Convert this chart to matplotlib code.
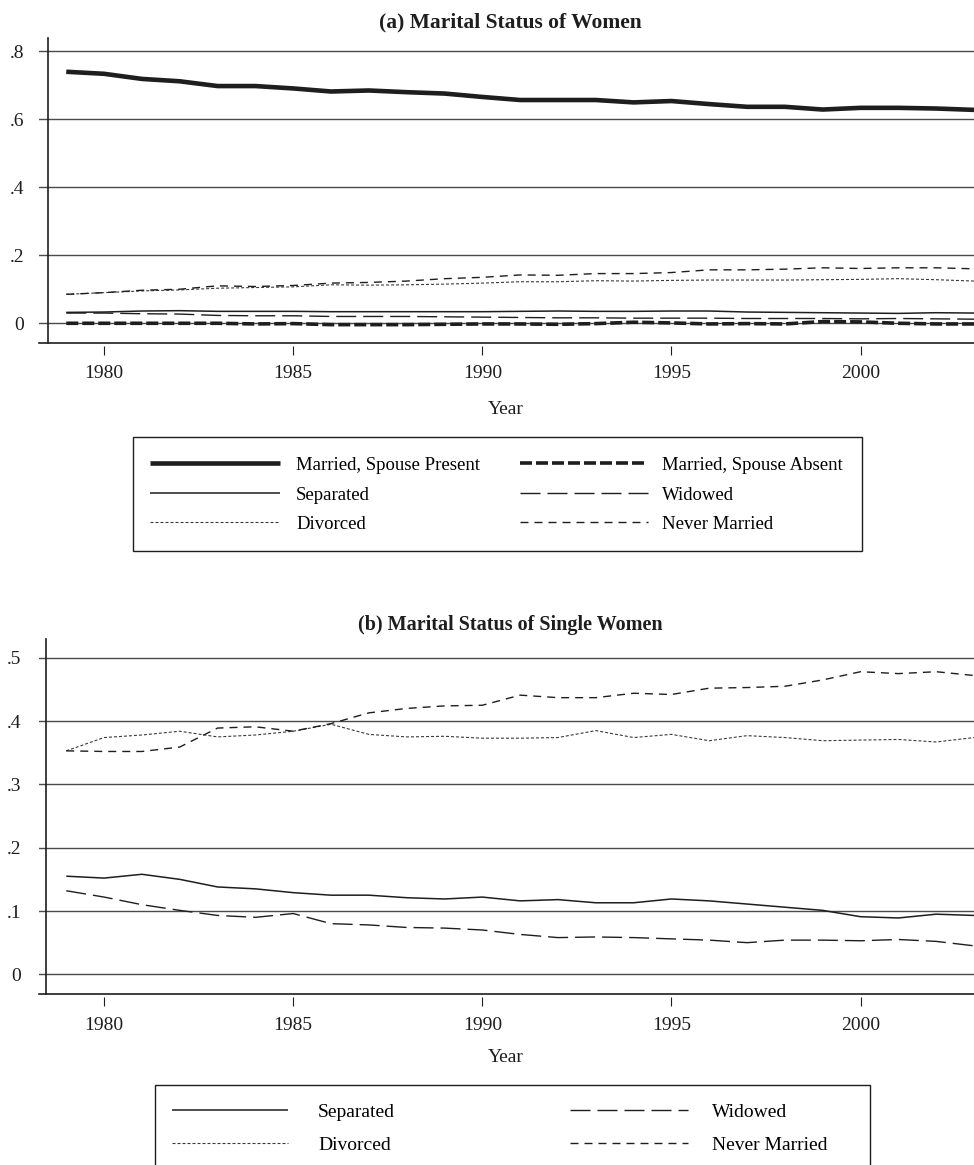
import matplotlib
matplotlib.use("Agg")
import matplotlib.pyplot as plt
from matplotlib.lines import Line2D
from matplotlib.patches import Rectangle

plt.rcParams['font.family'] = ['Liberation Serif', 'DejaVu Serif']
plt.rcParams['lines.scale_dashes'] = False

years = list(range(1979, 2004))

# Panel (a): all women
married_present = [0.739, 0.733, 0.718, 0.711, 0.697, 0.697, 0.690, 0.681, 0.684, 0.679,
                   0.675, 0.665, 0.656, 0.656, 0.656, 0.649, 0.653, 0.644, 0.636, 0.636,
                   0.628, 0.633, 0.633, 0.631, 0.627]
married_absent = [0.000, 0.000, 0.000, 0.000, 0.000, -0.002, -0.001, -0.004, -0.004, -0.004,
                  -0.003, -0.002, -0.002, -0.003, -0.001, 0.003, 0.001, -0.002, -0.001, -0.002,
                  0.005, 0.004, 0.000, -0.002, -0.002]
separated_a = [0.032, 0.033, 0.036, 0.037, 0.035, 0.035, 0.035, 0.034, 0.034, 0.034,
               0.034, 0.034, 0.035, 0.036, 0.035, 0.035, 0.036, 0.036, 0.033, 0.032,
               0.031, 0.030, 0.029, 0.031, 0.030]
widowed_a = [0.030, 0.030, 0.028, 0.027, 0.023, 0.022, 0.022, 0.020, 0.020, 0.020,
             0.019, 0.018, 0.017, 0.016, 0.016, 0.015, 0.015, 0.015, 0.014, 0.014,
             0.014, 0.013, 0.014, 0.013, 0.012]
divorced_a = [0.085, 0.090, 0.095, 0.098, 0.103, 0.105, 0.107, 0.113, 0.112, 0.113,
              0.115, 0.118, 0.122, 0.122, 0.125, 0.124, 0.126, 0.127, 0.127, 0.127,
              0.128, 0.129, 0.131, 0.128, 0.124]
never_a = [0.085, 0.090, 0.097, 0.100, 0.110, 0.108, 0.111, 0.118, 0.120, 0.124,
           0.131, 0.135, 0.142, 0.141, 0.146, 0.146, 0.149, 0.157, 0.157, 0.159,
           0.163, 0.161, 0.163, 0.163, 0.160]

# Panel (b): single women
separated_b = [0.155, 0.152, 0.158, 0.150, 0.138, 0.135, 0.129, 0.125, 0.125, 0.121,
               0.119, 0.122, 0.116, 0.118, 0.113, 0.113, 0.119, 0.116, 0.111, 0.106,
               0.101, 0.091, 0.089, 0.095, 0.093]
widowed_b = [0.132, 0.122, 0.110, 0.101, 0.093, 0.090, 0.096, 0.080, 0.078, 0.074,
             0.073, 0.070, 0.063, 0.058, 0.059, 0.058, 0.056, 0.054, 0.050, 0.054,
             0.054, 0.053, 0.055, 0.052, 0.045]
divorced_b = [0.353, 0.374, 0.378, 0.384, 0.375, 0.378, 0.384, 0.395, 0.379, 0.375,
              0.376, 0.373, 0.373, 0.374, 0.385, 0.374, 0.379, 0.369, 0.377, 0.374,
              0.369, 0.370, 0.371, 0.367, 0.374]
never_b = [0.353, 0.352, 0.352, 0.359, 0.389, 0.391, 0.384, 0.396, 0.413, 0.420,
           0.424, 0.425, 0.441, 0.437, 0.437, 0.444, 0.442, 0.452, 0.453, 0.455,
           0.465, 0.478, 0.475, 0.478, 0.472]

yticks_a = [0, 0.2, 0.4, 0.6, 0.8]
yticklabels_a = ['0', '.2', '.4', '.6', '.8']
yticks_b = [0, 0.1, 0.2, 0.3, 0.4, 0.5]
yticklabels_b = ['0', '.1', '.2', '.3', '.4', '.5']
xticks = [1980, 1985, 1990, 1995, 2000]

INK = '#1e1e1e'
GRID = '#4a4a4a'
W, H = 974, 1165
px = 0.72  # points per pixel at dpi 100

styles = {
    'Married, Spouse Present': dict(color=INK, lw=3.3, ls='-'),
    'Married, Spouse Absent': dict(color=INK, lw=2.6, ls=(0, (12 * px, 4 * px))),
    'Separated': dict(color=INK, lw=1.1, ls='-'),
    'Widowed': dict(color=INK, lw=1.0, ls=(0, (20 * px, 7 * px))),
    'Divorced': dict(color='#3a3a3a', lw=0.8, ls=(0, (3 * px, 2 * px))),
    'Never Married': dict(color=INK, lw=1.0, ls=(0, (8 * px, 6 * px))),
}

fig = plt.figure(figsize=(W / 100, H / 100), dpi=100)


def make_axes(top_px, bottom_px, ylim, spine_px):
    left_px = 39
    ax = fig.add_axes([left_px / W, 1 - bottom_px / H, (W - left_px) / W, (bottom_px - top_px) / H])
    ax.set_xlim(1979 - (66.3 - left_px) / 37.87, 2003.0)
    ax.set_ylim(*ylim)
    ax.spines['top'].set_visible(False)
    ax.spines['right'].set_visible(False)
    ax.spines['left'].set_position(('axes', (spine_px - left_px) / (W - left_px)))
    ax.spines['left'].set_color(INK)
    ax.spines['left'].set_linewidth(1.2)
    ax.spines['bottom'].set_position(('outward', 3 * px))
    ax.spines['bottom'].set_color('none')
    ax.plot([0, 1], [0, 0], transform=ax.transAxes, color=INK, lw=1.2, clip_on=False, zorder=5)
    ax.set_xticks(xticks)
    ax.tick_params(axis='x', direction='out', length=9 * px, width=0.8, color=INK,
                   labelsize=14, pad=7.7, labelcolor=INK)
    ax.tick_params(axis='y', length=0, labelsize=14, pad=17.5, labelcolor=INK)
    ax.grid(axis='y', color=GRID, lw=1.0)
    ax.set_axisbelow(True)
    return ax


ax1 = make_axes(38, 342.7, (-0.0571, 0.8382), 48.3)
ax1.set_yticks(yticks_a)
ax1.set_yticklabels(yticklabels_a)
series_a = [('Married, Spouse Present', married_present), ('Married, Spouse Absent', married_absent),
            ('Separated', separated_a), ('Widowed', widowed_a),
            ('Divorced', divorced_a), ('Never Married', never_a)]
for name, vals in series_a:
    ax1.plot(years, vals, solid_capstyle='butt', dash_capstyle='butt', **styles[name])

ax2 = make_axes(639.3, 994, (-0.0311, 0.5292), 45.7)
ax2.set_yticks(yticks_b)
ax2.set_yticklabels(yticklabels_b)
series_b = [('Separated', separated_b), ('Widowed', widowed_b),
            ('Divorced', divorced_b), ('Never Married', never_b)]
for name, vals in series_b:
    ax2.plot(years, vals, solid_capstyle='butt', dash_capstyle='butt', **styles[name])

fig.text(510 / W, 1 - 22 / H, '(a) Marital Status of Women', ha='center', va='center',
         fontsize=15.5, fontweight='bold', color=INK)
fig.text(510 / W, 1 - 625 / H, '(b) Marital Status of Single Women', ha='center', va='center',
         fontsize=14.5, fontweight='bold', color=INK)
fig.text(506 / W, 1 - 410 / H, 'Year', ha='center', va='center', fontsize=14, color=INK)
fig.text(506 / W, 1 - 1058 / H, 'Year', ha='center', va='center', fontsize=14, color=INK)


def column_legend(names, x_px, yc_px, hlen_px, pad_px, spacing, fs=14):
    handles = [Line2D([0], [0], solid_capstyle='butt', dash_capstyle='butt', **styles[n]) for n in names]
    fs_px = fs / 0.72
    leg = fig.legend(handles, names, loc='center left', bbox_to_anchor=(x_px / W, 1 - yc_px / H),
                     fontsize=fs, frameon=False, handlelength=hlen_px / fs_px,
                     handletextpad=pad_px / fs_px, labelspacing=spacing,
                     borderpad=0, borderaxespad=0)
    return leg


# Legend (a)
fig.add_artist(Rectangle((133 / W, 1 - 551 / H), (862 - 133) / W, (551 - 437) / H,
                         transform=fig.transFigure, fill=False, ec=INK, lw=1.0))
column_legend(['Married, Spouse Present', 'Separated', 'Divorced'], 150, 495, 130, 16, 0.66, fs=13.5)
column_legend(['Married, Spouse Absent', 'Widowed', 'Never Married'], 520, 495, 128, 14, 0.66, fs=13.5)

# Legend (b)
fig.add_artist(Rectangle((155 / W, 1 - 1185 / H), (870 - 155) / W, (1185 - 1085) / H,
                         transform=fig.transFigure, fill=False, ec=INK, lw=1.0))
column_legend(['Separated', 'Divorced'], 172, 1128.5, 116, 30, 0.76)
column_legend(['Widowed', 'Never Married'], 570, 1128.5, 118, 24, 0.76)

fig.savefig('out.png', dpi=100)
